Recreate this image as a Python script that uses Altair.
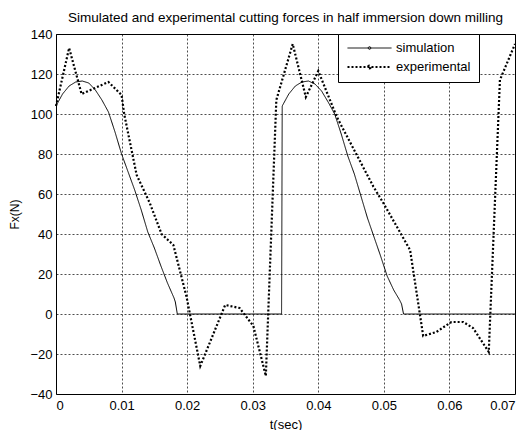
import altair as alt
import pandas as pd

# Simulation (solid line)
sim_t = [0.0, 0.001, 0.002, 0.003, 0.004, 0.005, 0.006, 0.007, 0.008, 0.009,
         0.010, 0.011, 0.012, 0.013, 0.014, 0.015, 0.016, 0.017, 0.018, 0.0182,
         0.0185, 0.0344,
         0.0345, 0.0355, 0.0365, 0.0375, 0.0385, 0.0395, 0.0405, 0.0415, 0.0425,
         0.0435, 0.0445, 0.0455, 0.0465, 0.0475, 0.0485, 0.0495, 0.0505, 0.0515,
         0.0524, 0.0527, 0.053, 0.07]
sim_f = [104, 110, 114, 116, 116.5, 115.5, 112, 107, 101, 91,
         80, 71, 62, 52, 41, 33, 24, 15.5, 8, 6,
         0, 0,
         104, 110, 114, 116, 116.5, 115, 111.5, 106, 100,
         90, 79, 70, 59, 48, 38.5, 29, 19, 12,
         7, 5, 0, 0]

# Experimental (dotted line)
exp_t = [0.0, 0.002, 0.0039, 0.008, 0.010, 0.0104, 0.0123, 0.0143, 0.0161, 0.0179,
         0.0199, 0.022, 0.0258, 0.028, 0.0301, 0.032, 0.0336, 0.0361, 0.0381, 0.040,
         0.0428, 0.0484, 0.0501, 0.054, 0.056, 0.058, 0.0603, 0.0621, 0.0636, 0.066,
         0.0677, 0.070]
exp_f = [104, 133, 110, 116, 109.5, 100, 69.5, 55.5, 40, 34.5,
         8.7, -26, 4.5, 3, -6, -31, 107, 135, 108.5, 121.5,
         98.7, 63.7, 54.5, 32, -11, -9, -4, -4, -7, -19,
         117, 135]

x_ticks = [0, 0.01, 0.02, 0.03, 0.04, 0.05, 0.06, 0.07]
y_ticks = [-40, -20, 0, 20, 40, 60, 80, 100, 120, 140]
series = ["simulation", "experimental"]

rows = []
for i, (t, f) in enumerate(zip(sim_t, sim_f)):
    rows.append({"t": t, "f": f, "series": series[0], "i": i})
for i, (t, f) in enumerate(zip(exp_t, exp_f)):
    rows.append({"t": t, "f": f, "series": series[1], "i": i})
df = pd.DataFrame(rows)

FONT = "Liberation Sans"
LEG = alt.Legend(title=None, orient="none", legendX=282, legendY=0)

chart = alt.Chart(df).mark_line(color="black").encode(
    x=alt.X("t:Q", title="t(sec)",
            scale=alt.Scale(domain=[0, 0.07], nice=False, zero=False),
            axis=alt.Axis(values=x_ticks,
                          labelExpr="datum.value == 0 ? '0' : format(datum.value, '.2f')",
                          labelPadding=5, titlePadding=6, titleFontSize=13)),
    y=alt.Y("f:Q", title="Fx(N)",
            scale=alt.Scale(domain=[-40, 140], nice=False),
            axis=alt.Axis(values=y_ticks, format="d", labelPadding=4, titlePadding=8,
                          titleFontSize=12)),
    detail="series:N",
    order="i:Q",
    strokeDash=alt.StrokeDash("series:N",
                              scale=alt.Scale(domain=series, range=[[1, 0], [2, 2]]),
                              legend=LEG),
    strokeWidth=alt.StrokeWidth("series:N",
                                scale=alt.Scale(domain=series, range=[1, 2.2]),
                                legend=LEG),
).properties(
    width=459,
    height=360,
    title=alt.Title("Simulated and experimental cutting forces in half immersion down milling",
                    fontSize=13.5, fontWeight="normal", font=FONT, offset=4, anchor="middle"),
    autosize=alt.AutoSizeParams(type="none"),
    padding={"left": 48, "top": 26, "right": 6, "bottom": 36},
).configure_view(
    stroke="black", strokeWidth=1
).configure_axis(
    grid=True, gridColor="black", gridDash=[2, 2], gridWidth=0.7, gridOpacity=1,
    ticks=False, tickSize=0, domain=False,
    labelFont=FONT, labelFontSize=13, labelColor="black",
    titleFont=FONT, titleFontWeight="normal", titleColor="black",
).configure_legend(
    strokeColor="black", fillColor="white", padding=8, cornerRadius=0,
    symbolType="M-1,0H1M-0.06,0A0.06,0.06,0,1,1,0.06,0A0.06,0.06,0,1,1,-0.06,0",
    symbolSize=1936, symbolStrokeColor="black",
    labelFont=FONT, labelFontSize=13, labelColor="black", labelOffset=3,
    rowPadding=6, clipHeight=12,
)

chart.save("out.html", embed_options={"renderer": "svg", "actions": False})
